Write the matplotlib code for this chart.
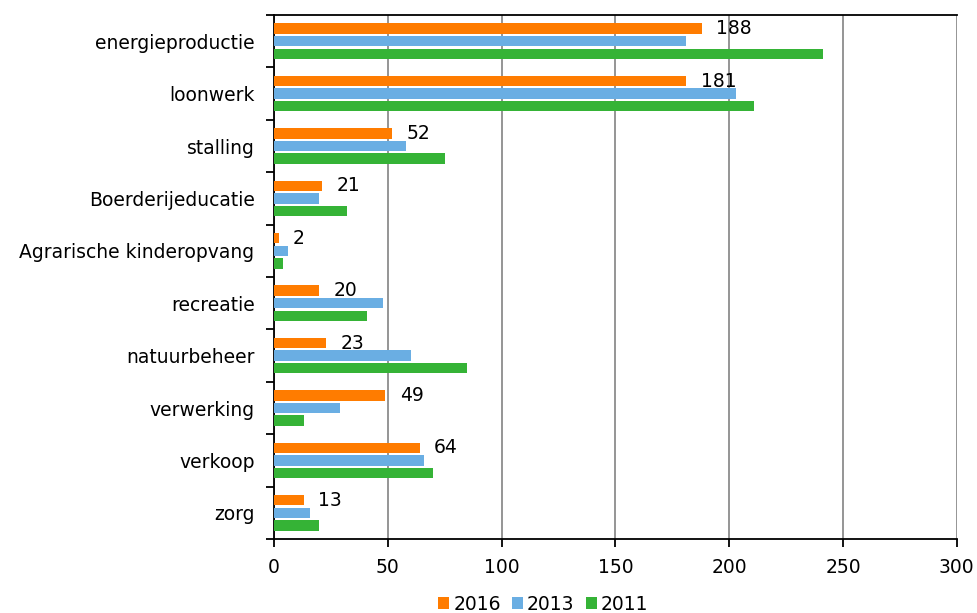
import matplotlib.pyplot as plt
import numpy as np

categories = ['energieproductie', 'loonwerk', 'stalling', 'Boerderijeducatie',
              'Agrarische kinderopvang', 'recreatie', 'natuurbeheer',
              'verwerking', 'verkoop', 'zorg']
jaren = ['2016', '2013', '2011']
v2016 = [188, 181, 52, 21, 2, 20, 23, 49, 64, 13]
v2013 = [181, 203, 58, 20, 6, 48, 60, 29, 66, 16]
v2011 = [241, 211, 75, 32, 4, 41, 85, 13, 70, 20]
kleuren = ['#FF7C00', '#6AAEE3', '#35B336']

fs = 13.5

fig = plt.figure(figsize=(9.77, 6.13), dpi=100)
ax = fig.add_axes([0.2804, 0.1207, 0.699, 0.8548])

y = np.arange(len(categories))
step = 0.24
h = 0.2
bars = []
for k, (vals, kleur) in enumerate(zip([v2016, v2013, v2011], kleuren)):
    b = ax.barh(y + (k - 1) * step, vals, height=h, color=kleur, label=jaren[k], zorder=3)
    bars.append(b)

# labels alleen voor 2016
ax.bar_label(bars[0], labels=[str(v) for v in v2016], padding=10.5, fontsize=fs, zorder=4)

ax.set_xlim(0, 300)
ax.set_ylim(len(categories) - 0.5, -0.5)
ax.set_xticks(np.arange(0, 301, 50))
ax.set_yticks(y)
ax.set_yticklabels(categories)
ax.set_yticks(np.arange(-0.5, len(categories)), minor=True)
ax.tick_params(axis='y', which='major', length=0, pad=14, labelsize=fs)
ax.tick_params(axis='y', which='minor', length=6, width=1.3, direction='out')
ax.tick_params(axis='x', length=6, width=1.3, direction='out', pad=8, labelsize=fs)

ax.grid(axis='x', color='#8C8C8C', linewidth=1.3, zorder=0)
ax.set_axisbelow(True)
for s in ['left', 'bottom', 'top']:
    ax.spines[s].set_linewidth(1.3)
ax.spines['right'].set_visible(False)

fig.legend(handles=bars, labels=jaren, loc='center', bbox_to_anchor=(0.556, 0.014),
           ncol=3, frameon=False, fontsize=fs, handlelength=0.6, handleheight=0.6,
           handletextpad=0.2, columnspacing=0.6, borderpad=0)

fig.savefig('out.png', dpi=100)
